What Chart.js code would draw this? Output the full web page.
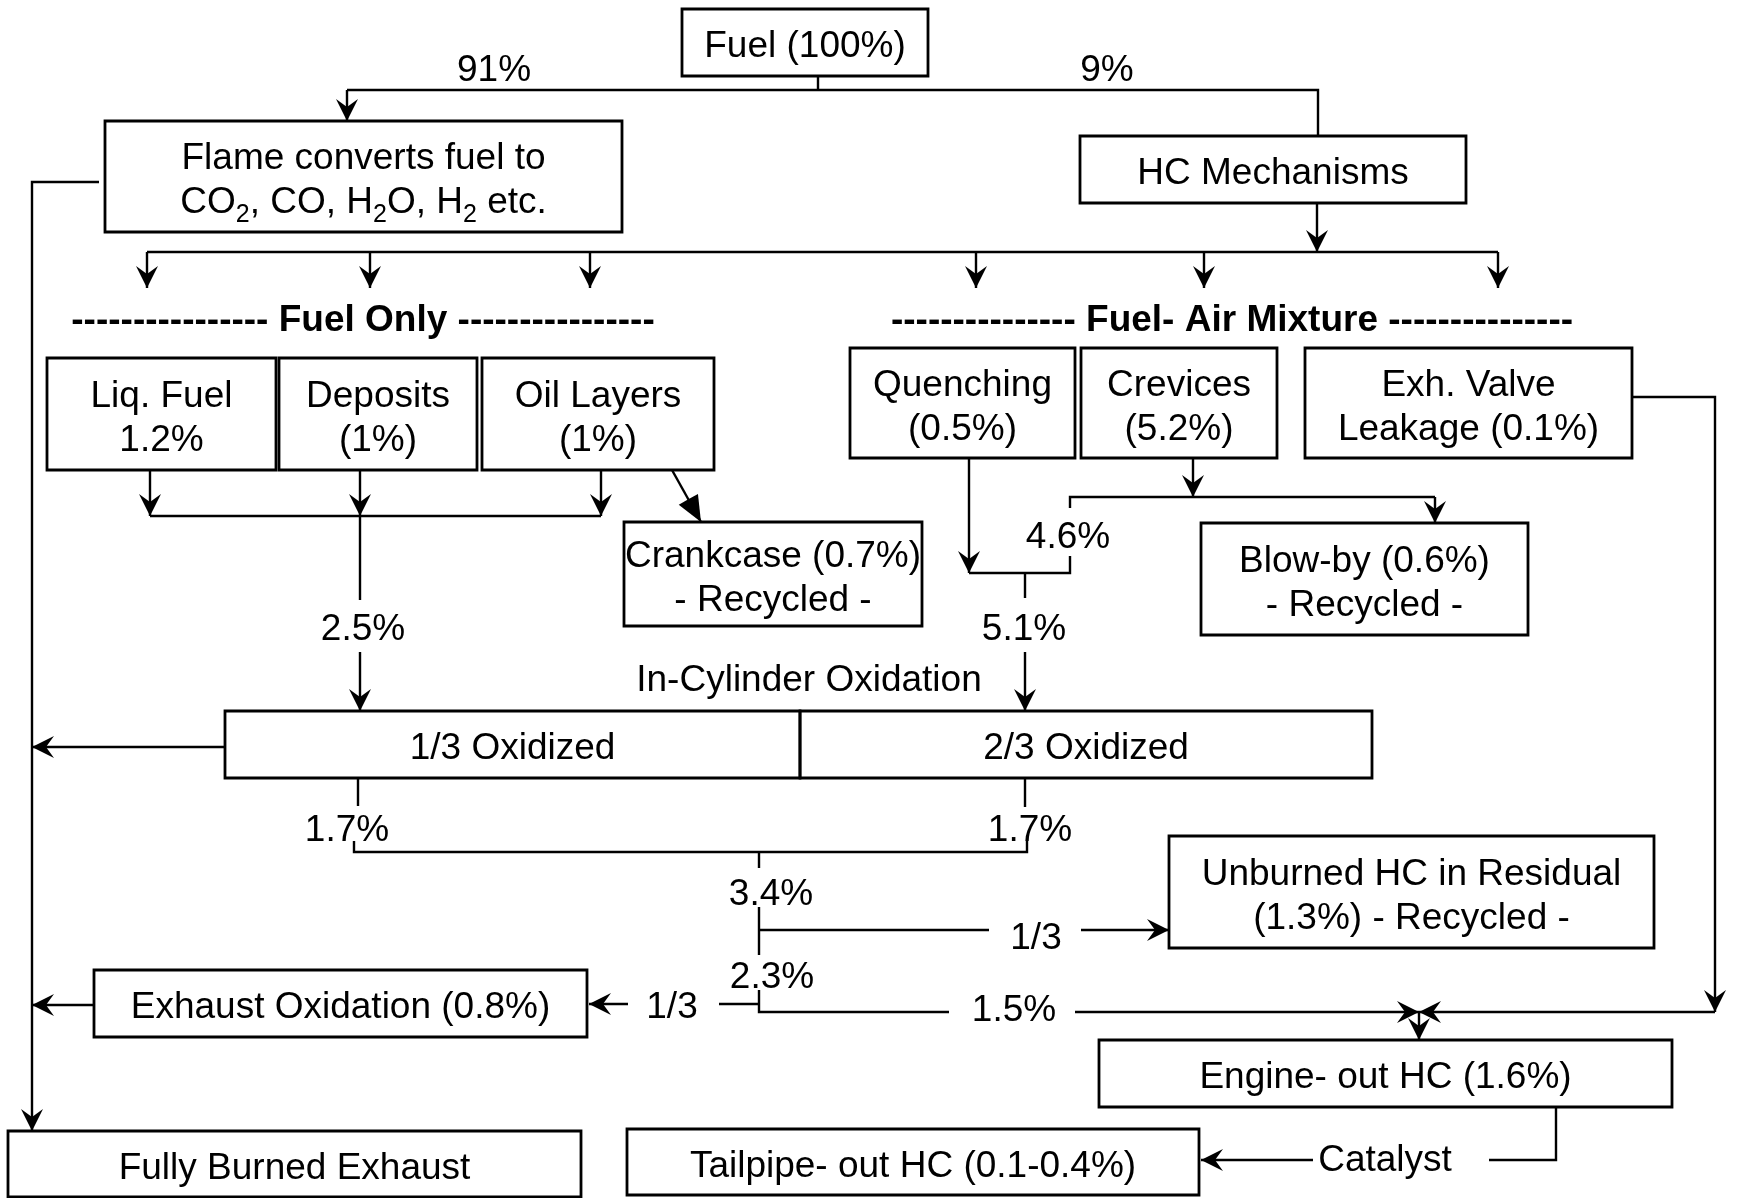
<!DOCTYPE html>
<html>
<head>
<meta charset="utf-8">
<script src="https://cdn.jsdelivr.net/npm/chart.js@4/dist/chart.umd.min.js"></script>
<style>
  html, body { margin: 0; padding: 0; background: #fff; }
  #wrap { width: 1737px; height: 1198px; }
</style>
</head>
<body>
<div id="wrap"><canvas id="flowCanvas" width="1737" height="1198"></canvas></div>
<script>
// HC flow diagram - boxes, connectors and labels drawn on a hidden linear x/y scale

// box texts ('_' marks a one-char subscript)
const nodeText = [
  ['Fuel (100%)'],
  ['Flame converts fuel to', 'CO_2, CO, H_2O, H_2 etc.'],
  ['HC Mechanisms'],
  ['Liq. Fuel', '1.2%'],
  ['Deposits', '(1%)'],
  ['Oil Layers', '(1%)'],
  ['Crankcase (0.7%)', '- Recycled -'],
  ['Quenching', '(0.5%)'],
  ['Crevices', '(5.2%)'],
  ['Exh. Valve', 'Leakage (0.1%)'],
  ['Blow-by (0.6%)', '- Recycled -'],
  ['1/3 Oxidized'],
  ['2/3 Oxidized'],
  ['Unburned HC in Residual', '(1.3%) - Recycled -'],
  ['Exhaust Oxidation (0.8%)'],
  ['Engine- out HC (1.6%)'],
  ['Tailpipe- out HC (0.1-0.4%)'],
  ['Fully Burned Exhaust']
];

// flow shares written on the connectors
const flowText = ['91%', '9%', '2.5%', '4.6%', '5.1%', 'In-Cylinder Oxidation',
  '1.7%', '1.7%', '3.4%', '1/3', '2.3%', '1/3', '1.5%', 'Catalyst'];

const headerText = ['---------------- Fuel Only ----------------',
  '--------------- Fuel- Air Mixture ---------------'];

// layout (diagram units = scale values)
const nodeRects = [
  [682, 9, 928, 76],
  [105, 121, 622, 232],
  [1080, 136, 1466, 203],
  [47, 358, 276, 470],
  [279, 358, 477, 470],
  [482, 358, 714, 470],
  [624, 522, 922, 626],
  [850, 348, 1075, 458],
  [1081, 348, 1277, 458],
  [1305, 348, 1632, 458],
  [1201, 523, 1528, 635],
  [225, 711, 800, 778],
  [800, 711, 1372, 778],
  [1169, 836, 1654, 948],
  [94, 970, 587, 1037],
  [1099, 1040, 1672, 1107],
  [627, 1129, 1199, 1195],
  [8, 1131, 581, 1197]
];
const flowPos = [[494, 68], [1107, 68], [363, 627], [1068, 535], [1024, 627], [809, 678],
  [347, 828], [1030, 828], [771, 892], [1036, 936], [772, 975], [672, 1005], [1014, 1008], [1385, 1158]];
const headerPos = [[363, 318], [1232, 318]];

// connectors: points, a = arrow at the end (1 open barb, 2 solid triangle)
const connectors = [
  { p: [[818, 76], [818, 90]] },
  { p: [[347, 90], [1318, 90], [1318, 136]] },
  { p: [[347, 90], [347, 121]], a: 1 },
  { p: [[99, 182], [32, 182], [32, 1131]], a: 1 },
  { p: [[1317, 203], [1317, 252]], a: 1 },
  { p: [[147, 252], [1498, 252]] },
  { p: [[147, 252], [147, 288]], a: 1 },
  { p: [[370, 252], [370, 288]], a: 1 },
  { p: [[590, 252], [590, 288]], a: 1 },
  { p: [[976, 252], [976, 288]], a: 1 },
  { p: [[1204, 252], [1204, 288]], a: 1 },
  { p: [[1498, 252], [1498, 288]], a: 1 },
  { p: [[150, 470], [150, 516]], a: 1 },
  { p: [[360, 470], [360, 516]], a: 1 },
  { p: [[601, 470], [601, 516]], a: 1 },
  { p: [[150, 516], [601, 516]] },
  { p: [[360, 516], [360, 600]] },
  { p: [[360, 652], [360, 711]], a: 1 },
  { p: [[672, 470], [701, 522]], a: 2 },
  { p: [[969, 458], [969, 573]], a: 1 },
  { p: [[969, 573], [1070, 573], [1070, 556]] },
  { p: [[1070, 508], [1070, 497], [1435, 497]] },
  { p: [[1435, 497], [1435, 523]], a: 1 },
  { p: [[1193, 458], [1193, 497]], a: 1 },
  { p: [[1025, 573], [1025, 598]] },
  { p: [[1025, 652], [1025, 711]], a: 1 },
  { p: [[225, 747], [32, 747]], a: 1 },
  { p: [[358, 778], [358, 806]] },
  { p: [[1025, 778], [1025, 807]] },
  { p: [[354, 841], [354, 852], [1027, 852], [1027, 841]] },
  { p: [[759, 852], [759, 868]] },
  { p: [[759, 907], [759, 955]] },
  { p: [[759, 930], [989, 930]] },
  { p: [[1081, 930], [1169, 930]], a: 1 },
  { p: [[759, 990], [759, 1012], [949, 1012]] },
  { p: [[1075, 1012], [1419, 1012]], a: 1 },
  { p: [[719, 1004], [759, 1004]] },
  { p: [[628, 1004], [589, 1004]], a: 1 },
  { p: [[94, 1005], [32, 1005]], a: 1 },
  { p: [[1632, 397], [1715, 397], [1715, 1012]], a: 1 },
  { p: [[1715, 1012], [1419, 1012]], a: 1 },
  { p: [[1419, 1012], [1419, 1040]], a: 1 },
  { p: [[1556, 1107], [1556, 1160], [1489, 1160]] },
  { p: [[1313, 1160], [1201, 1160]], a: 1 }
];

const FONT = "'Liberation Sans', Arial, sans-serif";
const FS = 37;

const datasets = [];
nodeRects.forEach(function (r) {
  datasets.push({
    data: [{ x: r[0], y: r[1] }, { x: r[2], y: r[1] }, { x: r[2], y: r[3] }, { x: r[0], y: r[3] }, { x: r[0], y: r[1] }],
    showLine: true, borderColor: '#000', borderWidth: 2.8, pointRadius: 0,
    borderJoinStyle: 'miter', borderCapStyle: 'square', tension: 0, fill: false, clip: false
  });
});
connectors.forEach(function (c) {
  datasets.push({
    data: c.p.map(function (q) { return { x: q[0], y: q[1] }; }),
    showLine: true, borderColor: '#000', borderWidth: 2.4, pointRadius: 0,
    borderJoinStyle: 'miter', tension: 0, fill: false, clip: false
  });
});

function drawRich(ctx, str, cx, cy, bold) {
  const segs = [];
  let i = 0, buf = '';
  while (i < str.length) {
    if (str[i] === '_' && i + 1 < str.length) {
      if (buf) segs.push({ t: buf, sub: false });
      segs.push({ t: str[i + 1], sub: true });
      buf = '';
      i += 2;
    } else {
      buf += str[i];
      i++;
    }
  }
  if (buf) segs.push({ t: buf, sub: false });
  const main = (bold ? 'bold ' : '') + FS + 'px ' + FONT;
  const small = Math.round(FS * 0.68) + 'px ' + FONT;
  let total = 0;
  segs.forEach(function (s) {
    ctx.font = s.sub ? small : main;
    s.w = ctx.measureText(s.t).width;
    total += s.w;
  });
  let x = cx - total / 2;
  const base = cy + FS * 0.36;
  segs.forEach(function (s) {
    ctx.font = s.sub ? small : main;
    ctx.fillText(s.t, x, s.sub ? base + 9 : base);
    x += s.w;
  });
}

const overlay = {
  id: 'overlay',
  afterDatasetsDraw: function (chart) {
    const ctx = chart.ctx;
    const xs = chart.scales.x, ys = chart.scales.y;
    const px = function (v) { return xs.getPixelForValue(v); };
    const py = function (v) { return ys.getPixelForValue(v); };
    ctx.save();
    ctx.fillStyle = '#000';

    // arrow heads
    connectors.forEach(function (c) {
      if (!c.a) return;
      const n = c.p.length;
      const x1 = px(c.p[n - 1][0]), y1 = py(c.p[n - 1][1]);
      const x0 = px(c.p[n - 2][0]), y0 = py(c.p[n - 2][1]);
      const len = Math.hypot(x1 - x0, y1 - y0);
      const ux = (x1 - x0) / len, uy = (y1 - y0) / len;
      const L = c.a === 2 ? 26 : 22, W = 11, notch = c.a === 2 ? 0 : 8;
      ctx.beginPath();
      ctx.moveTo(x1, y1);
      ctx.lineTo(x1 - ux * L - uy * W, y1 - uy * L + ux * W);
      ctx.lineTo(x1 - ux * (L - notch), y1 - uy * (L - notch));
      ctx.lineTo(x1 - ux * L + uy * W, y1 - uy * L - ux * W);
      ctx.closePath();
      ctx.fill();
    });

    // box texts
    nodeRects.forEach(function (r, k) {
      const lines = nodeText[k];
      const cx = px((r[0] + r[2]) / 2);
      const cy = py((r[1] + r[3]) / 2) + 1.5;
      const step = 44;
      lines.forEach(function (t, j) {
        drawRich(ctx, t, cx, cy + (j - (lines.length - 1) / 2) * step, false);
      });
    });

    flowText.forEach(function (t, k) {
      drawRich(ctx, t, px(flowPos[k][0]), py(flowPos[k][1]), false);
    });
    headerText.forEach(function (t, k) {
      drawRich(ctx, t, px(headerPos[k][0]), py(headerPos[k][1]), true);
    });
    ctx.restore();
  }
};

new Chart(document.getElementById('flowCanvas').getContext('2d'), {
  type: 'scatter',
  data: { datasets: datasets },
  options: {
    responsive: false,
    animation: false,
    devicePixelRatio: 1,
    layout: { padding: 0 },
    scales: {
      x: { type: 'linear', min: 0, max: 1737, display: false },
      y: { type: 'linear', min: 0, max: 1198, reverse: true, display: false }
    },
    plugins: { legend: { display: false }, tooltip: { enabled: false } }
  },
  plugins: [overlay]
});
</script>
</body>
</html>
